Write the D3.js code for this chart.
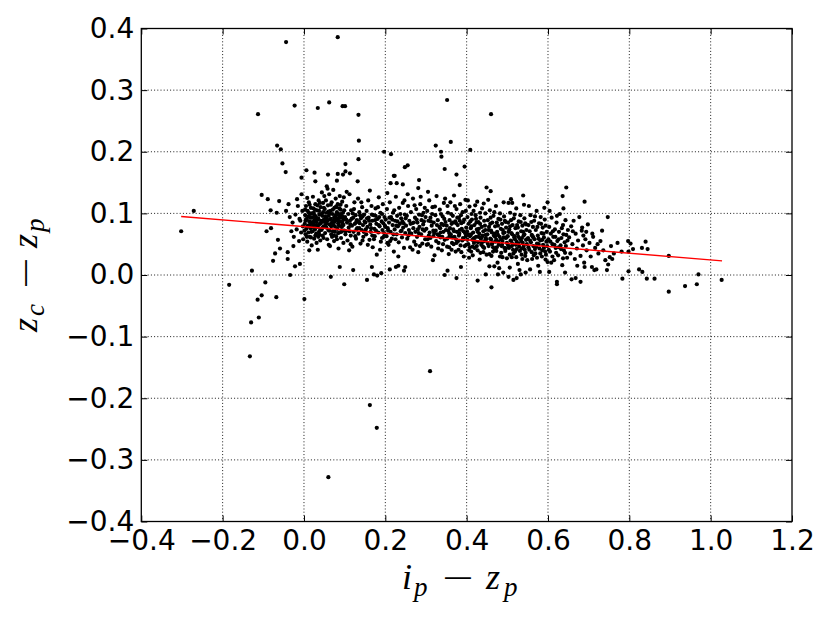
<!DOCTYPE html>
<html>
<head>
<meta charset="utf-8">
<script src="https://cdn.jsdelivr.net/npm/d3@7"></script>
<style>
  body { margin: 0; background: #fff; }
  svg { display: block; }
</style>
</head>
<body>
<svg id="chart" width="830" height="623"></svg>
<script>
// Tick values
const xTicks = [-0.4, -0.2, 0.0, 0.2, 0.4, 0.6, 0.8, 1.0, 1.2];
const yTicks = [-0.4, -0.3, -0.2, -0.1, 0.0, 0.1, 0.2, 0.3, 0.4];

// Linear fit, endpoints
const fitX = [-0.302, 1.028];
const fitY = [0.095, 0.023];

// Scattered points away from the main cloud
const outliers = [
  [-0.302,0.071],[-0.271,0.104],[-0.184,-0.016],[-0.128,0.007],[-0.095,-0.012],[-0.104,-0.033],[-0.114,-0.040],
  [-0.068,-0.036],[-0.111,-0.069],[-0.130,-0.077],[-0.133,-0.132],[0.001,-0.039],[-0.066,0.210],[-0.057,0.204],
  [-0.053,0.181],[-0.045,0.167],[-0.104,0.130],[-0.089,0.123],[-0.061,0.120],[-0.082,0.105],[-0.067,0.101],
  [-0.044,0.104],[-0.092,0.071],[-0.081,0.076],[-0.064,0.057],[-0.059,0.043],[-0.071,0.035],[-0.076,0.023],
  [-0.040,0.037],[-0.040,0.026],[-0.022,0.014],[-0.010,0.018],[-0.034,0.000],[-0.006,0.158],[0.006,0.170],
  [0.026,0.166],[0.028,0.152],[0.059,0.163],[0.083,0.164],[0.096,0.163],[0.102,0.168],[0.113,0.165],
  [0.102,0.180],[0.135,0.218],[0.081,0.153],[0.132,0.152],[0.066,-0.003],[0.099,-0.015],[0.088,0.013],
  [0.121,0.008],[-0.044,0.378],[0.083,0.386],[-0.113,0.261],[-0.023,0.275],[0.034,0.271],[0.062,0.280],
  [0.095,0.274],[0.101,0.274],[0.134,0.260],[0.134,0.188],[0.197,0.200],[0.214,0.196],[0.056,0.144],
  [0.221,0.161],[0.213,0.149],[0.228,0.149],[0.060,-0.328],[0.310,-0.156],[0.162,-0.211],[0.179,-0.248],
  [0.460,0.261],[0.352,0.284],[0.324,0.210],[0.337,0.200],[0.338,0.192],[0.361,0.216],[0.409,0.203],
  [0.346,0.172],[0.395,0.176],[0.375,0.163],[0.383,0.146],[0.248,0.175],[0.255,0.178],[0.223,0.161],
  [0.243,0.147],[0.283,0.154],[0.281,0.141],[0.449,0.142],[0.459,0.136],[0.539,0.129],[0.509,0.123],
  [0.512,0.117],[0.599,0.118],[0.155,-0.008],[0.167,0.013],[0.172,0.001],[0.180,-0.001],[0.190,0.003],
  [0.427,-0.009],[0.461,-0.020],[0.645,0.142],[0.636,0.128],[0.638,0.108],[0.690,0.119],[0.747,0.094],
  [0.733,0.072],[0.684,0.077],[0.694,0.070],[0.709,0.067],[0.722,0.050],[0.797,0.055],[0.803,0.051],
  [0.809,0.042],[0.840,0.054],[0.831,0.044],[0.845,0.042],[0.781,0.038],[0.798,0.038],[0.897,0.031],
  [0.824,0.009],[0.832,0.005],[0.843,-0.006],[0.862,-0.006],[0.798,0.006],[0.783,-0.006],[0.897,-0.027],
  [0.937,-0.018],[0.966,-0.015],[0.970,0.001],[1.027,-0.008],[0.745,0.008],[0.748,0.017],[0.758,0.026],
  [0.752,0.029],[0.714,0.008],[0.719,0.009],[0.680,-0.011],[0.658,-0.007],[0.668,-0.005],[0.642,0.004],
  [0.622,-0.011],[0.622,-0.015],[0.603,0.005],[0.708,0.013],[0.690,0.013],[0.211,0.009],[0.226,0.013],
  [0.232,0.015],[0.249,0.013],[0.246,0.007],[0.346,0.000],[0.353,0.007],[0.375,-0.005],[0.386,0.013],
  [0.447,0.001],[0.468,0.014],[0.477,0.001],[0.490,0.004],[0.503,-0.003],[0.515,-0.008],[0.523,-0.005],
  [0.533,0.001],[0.545,0.004]
];

// Main cloud, read band by band from left to right
const cloud = [
  // -0.04 .. 0.00
  [-0.028,0.085],[-0.025,0.062],[-0.021,0.098],[-0.018,0.074],[-0.015,0.112],[-0.012,0.055],[-0.009,0.088],
  [-0.007,0.069],[-0.004,0.104],[-0.003,0.079],[-0.026,0.047],[-0.017,0.123],[-0.011,0.091],[-0.002,0.058],
  [-0.006,0.131],[-0.035,0.094],[-0.031,0.071],[-0.038,0.115],
  // 0.00 .. 0.05
  [0.002,0.083],[0.003,0.097],[0.004,0.066],[0.005,0.112],[0.006,0.075],[0.007,0.091],[0.008,0.054],
  [0.009,0.104],[0.010,0.080],[0.011,0.069],[0.012,0.118],[0.013,0.087],[0.014,0.062],[0.015,0.099],
  [0.016,0.076],[0.017,0.109],[0.018,0.084],[0.019,0.048],[0.020,0.093],[0.021,0.071],[0.022,0.127],
  [0.023,0.081],[0.024,0.101],[0.025,0.059],[0.026,0.089],[0.027,0.074],[0.028,0.115],[0.029,0.095],
  [0.030,0.067],[0.031,0.086],[0.032,0.105],[0.033,0.078],[0.034,0.041],[0.035,0.092],[0.036,0.121],
  [0.037,0.070],[0.038,0.098],[0.039,0.083],[0.040,0.056],[0.041,0.110],[0.042,0.088],[0.043,0.073],
  [0.044,0.134],[0.045,0.096],[0.046,0.064],[0.047,0.102],[0.048,0.079],[0.049,0.090],[0.001,0.072],
  [0.008,0.125],[0.013,0.040],[0.019,0.100],[0.024,0.085],[0.031,0.052],[0.036,0.081],[0.042,0.099],
  [0.047,0.117],[0.005,0.090],[0.017,0.061],[0.027,0.106],[0.038,0.065],[0.044,0.087],[0.011,0.095],
  [0.022,0.078],[0.033,0.113],[0.040,0.074],[0.048,0.060],[0.003,0.106],[0.015,0.082],[0.029,0.091],
  // 0.05 .. 0.10
  [0.050,0.086],[0.051,0.107],[0.052,0.068],[0.053,0.094],[0.054,0.121],[0.055,0.077],[0.056,0.101],
  [0.057,0.058],[0.058,0.089],[0.059,0.113],[0.060,0.073],[0.061,0.096],[0.062,0.131],[0.063,0.082],
  [0.064,0.047],[0.065,0.104],[0.066,0.091],[0.067,0.066],[0.068,0.118],[0.069,0.085],[0.070,0.099],
  [0.071,0.071],[0.072,0.138],[0.073,0.088],[0.074,0.055],[0.075,0.109],[0.076,0.079],[0.077,0.095],
  [0.078,0.124],[0.079,0.063],[0.080,0.090],[0.081,0.102],[0.082,0.075],[0.083,0.115],[0.084,0.084],
  [0.085,0.043],[0.086,0.097],[0.087,0.069],[0.088,0.128],[0.089,0.087],[0.090,0.106],[0.091,0.060],
  [0.092,0.093],[0.093,0.078],[0.094,0.119],[0.095,0.083],[0.096,0.101],[0.097,0.052],[0.098,0.090],
  [0.099,0.072],[0.053,0.080],[0.058,0.140],[0.063,0.100],[0.069,0.062],[0.074,0.093],[0.079,0.111],
  [0.084,0.068],[0.089,0.099],[0.094,0.086],[0.057,0.088],[0.066,0.114],[0.072,0.081],[0.081,0.058],
  [0.087,0.108],[0.093,0.096],[0.098,0.126],[0.061,0.049],[0.076,0.070],[0.085,0.092],[0.091,0.079],
  [0.004,0.088],[0.009,0.079],[0.012,0.101],[0.016,0.093],[0.020,0.086],[0.023,0.108],[0.026,0.097],
  [0.030,0.081],[0.034,0.090],[0.037,0.104],[0.041,0.084],[0.045,0.076],[0.049,0.109],[0.052,0.095],
  [0.056,0.084],[0.060,0.103],[0.064,0.090],[0.067,0.079],[0.071,0.106],[0.075,0.086],[0.078,0.097],
  [0.082,0.089],[0.086,0.080],[0.090,0.114],[0.095,0.094],[0.099,0.105],[0.007,0.062],[0.018,0.070],
  [0.028,0.064],[0.039,0.117],[0.050,0.128],[0.062,0.072],[0.073,0.064],[0.083,0.099],[0.092,0.070],
  [0.097,0.081],[0.014,0.114],[0.035,0.062],[0.055,0.092],[0.080,0.110],
  // 0.10 .. 0.15
  [0.101,0.094],[0.103,0.071],[0.104,0.112],[0.106,0.085],[0.107,0.056],[0.109,0.099],[0.110,0.077],
  [0.112,0.131],[0.113,0.088],[0.115,0.064],[0.116,0.105],[0.118,0.080],[0.119,0.046],[0.121,0.093],
  [0.122,0.070],[0.124,0.118],[0.125,0.083],[0.127,0.097],[0.128,0.059],[0.130,0.089],[0.131,0.076],
  [0.133,0.124],[0.134,0.067],[0.136,0.102],[0.137,0.084],[0.139,0.051],[0.140,0.092],[0.142,0.073],
  [0.143,0.110],[0.145,0.081],[0.146,0.062],[0.148,0.098],[0.149,0.087],[0.105,0.135],[0.111,0.040],
  [0.117,0.091],[0.123,0.107],[0.129,0.074],[0.135,0.087],[0.141,0.118],[0.147,0.070],[0.102,0.066],
  [0.114,0.082],[0.126,0.063],[0.138,0.097],[0.144,0.056],
  [0.104,0.090],[0.112,0.071],[0.120,0.100],[0.128,0.085],[0.136,0.076],[0.144,0.095],[0.115,0.050],
  // 0.15 .. 0.20
  [0.151,0.085],[0.153,0.066],[0.154,0.104],[0.156,0.078],[0.158,0.121],[0.159,0.093],[0.161,0.057],
  [0.163,0.082],[0.164,0.070],[0.166,0.112],[0.168,0.088],[0.169,0.045],[0.171,0.097],[0.173,0.075],
  [0.174,0.063],[0.176,0.108],[0.178,0.083],[0.179,0.033],[0.181,0.091],[0.183,0.069],[0.184,0.126],
  [0.186,0.079],[0.188,0.101],[0.189,0.054],[0.191,0.087],[0.193,0.073],[0.194,0.115],[0.196,0.062],
  [0.198,0.094],[0.199,0.080],[0.157,0.049],[0.162,0.137],[0.167,0.098],[0.172,0.058],[0.177,0.072],
  [0.182,0.110],[0.187,0.041],[0.192,0.099],[0.197,0.068],[0.155,0.092],[0.165,0.076],[0.175,0.089],
  [0.185,0.094],[0.195,0.084],
  [0.152,0.074],[0.160,0.088],[0.168,0.064],[0.176,0.096],[0.184,0.081],[0.192,0.060],[0.200,0.078],
  // 0.20 .. 0.25
  [0.201,0.090],[0.203,0.063],[0.204,0.107],[0.206,0.076],[0.208,0.049],[0.209,0.085],[0.211,0.118],
  [0.213,0.070],[0.214,0.094],[0.216,0.059],[0.218,0.081],[0.219,0.101],[0.221,0.038],[0.223,0.074],
  [0.224,0.088],[0.226,0.127],[0.228,0.066],[0.229,0.096],[0.231,0.079],[0.233,0.053],[0.234,0.109],
  [0.236,0.083],[0.238,0.071],[0.239,0.092],[0.241,0.061],[0.243,0.117],[0.244,0.077],[0.246,0.044],
  [0.248,0.098],[0.249,0.068],[0.205,0.133],[0.212,0.055],[0.217,0.090],[0.222,0.105],[0.227,0.080],
  [0.232,0.030],[0.237,0.099],[0.242,0.087],[0.247,0.121],[0.207,0.072],[0.225,0.058],[0.245,0.084],
  [0.210,0.093],[0.220,0.066],[0.230,0.087],[0.240,0.072],[0.250,0.092],[0.205,0.052],
  // 0.25 .. 0.30
  [0.251,0.080],[0.253,0.096],[0.254,0.059],[0.256,0.112],[0.258,0.073],[0.259,0.088],[0.261,0.045],
  [0.263,0.102],[0.264,0.067],[0.266,0.084],[0.268,0.124],[0.269,0.076],[0.271,0.054],[0.273,0.093],
  [0.274,0.070],[0.276,0.107],[0.278,0.062],[0.279,0.085],[0.281,0.037],[0.283,0.098],[0.284,0.078],
  [0.286,0.115],[0.288,0.066],[0.289,0.089],[0.291,0.051],[0.293,0.082],[0.294,0.101],[0.296,0.072],
  [0.298,0.058],[0.299,0.094],[0.255,0.131],[0.262,0.083],[0.267,0.041],[0.272,0.113],[0.277,0.090],
  [0.282,0.068],[0.287,0.127],[0.292,0.074],[0.297,0.109],[0.257,0.064],[0.275,0.049],[0.295,0.087],
  [0.260,0.068],[0.270,0.085],[0.280,0.074],[0.290,0.097],[0.285,0.047],
  // 0.30 .. 0.35
  [0.301,0.075],[0.303,0.104],[0.304,0.058],[0.306,0.088],[0.308,0.121],[0.309,0.069],[0.311,0.093],
  [0.313,0.046],[0.314,0.080],[0.316,0.110],[0.318,0.063],[0.319,0.085],[0.321,0.032],[0.323,0.097],
  [0.324,0.072],[0.326,0.128],[0.328,0.066],[0.329,0.089],[0.331,0.052],[0.333,0.078],[0.334,0.106],
  [0.336,0.061],[0.338,0.083],[0.339,0.040],[0.341,0.095],[0.343,0.070],[0.344,0.117],[0.346,0.057],
  [0.348,0.086],[0.349,0.073],[0.305,0.135],[0.312,0.087],[0.317,0.024],[0.322,0.111],[0.327,0.081],
  [0.332,0.064],[0.337,0.099],[0.342,0.050],[0.347,0.124],[0.302,0.049],[0.315,0.099],[0.325,0.055],
  [0.335,0.076],[0.345,0.091],[0.307,0.064],[0.320,0.068],[0.340,0.062],
  [0.305,0.050],[0.318,0.072],[0.330,0.043],[0.343,0.081],[0.311,0.060],[0.336,0.069],
  // 0.35 .. 0.40
  [0.351,0.080],[0.352,0.059],[0.354,0.101],[0.355,0.072],[0.357,0.045],[0.358,0.089],[0.360,0.118],
  [0.361,0.066],[0.363,0.083],[0.364,0.052],[0.366,0.096],[0.367,0.074],[0.369,0.129],[0.370,0.062],
  [0.372,0.087],[0.373,0.038],[0.375,0.107],[0.376,0.070],[0.378,0.081],[0.379,0.055],[0.381,0.093],
  [0.382,0.067],[0.384,0.115],[0.385,0.048],[0.387,0.084],[0.388,0.075],[0.390,0.102],[0.391,0.060],
  [0.393,0.030],[0.394,0.090],[0.396,0.068],[0.397,0.122],[0.399,0.077],[0.353,0.112],[0.356,0.034],
  [0.359,0.076],[0.362,0.099],[0.365,0.061],[0.368,0.050],[0.371,0.112],[0.374,0.084],[0.377,0.093],
  [0.380,0.041],[0.383,0.073],[0.386,0.097],[0.389,0.056],[0.392,0.086],[0.395,0.047],[0.398,0.104],
  [0.357,0.068],[0.366,0.085],[0.374,0.058],[0.383,0.088],[0.392,0.071],[0.398,0.063],
  [0.352,0.046],[0.358,0.063],[0.363,0.041],[0.369,0.071],[0.375,0.052],[0.381,0.064],[0.387,0.037],
  [0.393,0.058],[0.399,0.049],
  // 0.40 .. 0.45
  [0.401,0.071],[0.402,0.094],[0.404,0.050],[0.405,0.083],[0.407,0.111],[0.408,0.063],[0.410,0.076],
  [0.411,0.038],[0.413,0.090],[0.414,0.057],[0.416,0.069],[0.417,0.104],[0.419,0.081],[0.420,0.044],
  [0.422,0.097],[0.423,0.062],[0.425,0.074],[0.426,0.119],[0.428,0.053],[0.429,0.086],[0.431,0.067],
  [0.432,0.025],[0.434,0.093],[0.435,0.059],[0.437,0.078],[0.438,0.108],[0.440,0.046],[0.441,0.071],
  [0.443,0.088],[0.444,0.055],[0.446,0.100],[0.447,0.065],[0.449,0.033],[0.403,0.121],[0.406,0.028],
  [0.409,0.087],[0.412,0.099],[0.415,0.046],[0.418,0.060],[0.421,0.113],[0.424,0.085],[0.427,0.040],
  [0.430,0.075],[0.433,0.101],[0.436,0.049],[0.439,0.064],[0.442,0.116],[0.445,0.080],[0.448,0.058],
  [0.404,0.066],[0.412,0.079],[0.418,0.052],[0.427,0.070],[0.433,0.083],[0.441,0.037],[0.446,0.073],
  [0.408,0.045],[0.423,0.091],[0.437,0.061],
  [0.402,0.057],[0.406,0.040],[0.411,0.066],[0.415,0.032],[0.420,0.055],[0.425,0.047],[0.429,0.062],
  [0.434,0.036],[0.438,0.053],[0.443,0.044],[0.447,0.060],
  // 0.45 .. 0.50
  [0.451,0.066],[0.452,0.089],[0.454,0.047],[0.455,0.078],[0.457,0.105],[0.458,0.059],[0.460,0.072],
  [0.461,0.031],[0.463,0.085],[0.464,0.053],[0.466,0.096],[0.467,0.064],[0.469,0.041],[0.470,0.079],
  [0.472,0.112],[0.473,0.057],[0.475,0.070],[0.476,0.020],[0.478,0.091],[0.479,0.049],[0.481,0.062],
  [0.482,0.100],[0.484,0.075],[0.485,0.036],[0.487,0.083],[0.488,0.055],[0.490,0.068],[0.491,0.118],
  [0.493,0.044],[0.494,0.088],[0.496,0.060],[0.497,0.077],[0.499,0.027],[0.453,0.122],[0.456,0.014],
  [0.459,0.093],[0.462,0.069],[0.465,0.038],[0.468,0.102],[0.471,0.054],[0.474,0.085],[0.477,0.065],
  [0.480,0.011],[0.483,0.090],[0.486,0.047],[0.489,0.073],[0.492,0.095],[0.495,0.039],[0.498,0.061],
  [0.454,0.073],[0.462,0.050],[0.470,0.062],[0.477,0.080],[0.485,0.058],[0.493,0.069],[0.458,0.083],
  [0.474,0.045],[0.488,0.029],[0.496,0.086],
  [0.452,0.051],[0.456,0.034],[0.460,0.058],[0.465,0.045],[0.469,0.067],[0.473,0.039],[0.478,0.054],
  [0.482,0.030],[0.487,0.049],[0.491,0.061],[0.496,0.043],[0.499,0.052],
  // 0.50 .. 0.55
  [0.501,0.063],[0.502,0.085],[0.504,0.044],[0.505,0.074],[0.507,0.101],[0.508,0.056],[0.510,0.068],
  [0.511,0.029],[0.513,0.081],[0.514,0.050],[0.516,0.092],[0.517,0.061],[0.519,0.038],[0.520,0.076],
  [0.522,0.108],[0.523,0.054],[0.525,0.067],[0.526,0.018],[0.528,0.087],[0.529,0.046],[0.531,0.059],
  [0.532,0.097],[0.534,0.071],[0.535,0.033],[0.537,0.080],[0.538,0.052],[0.540,0.064],[0.541,0.114],
  [0.543,0.041],[0.544,0.084],[0.546,0.057],[0.547,0.073],[0.549,0.024],[0.503,0.117],[0.506,0.012],
  [0.509,0.089],[0.512,0.066],[0.515,0.035],[0.518,0.098],[0.521,0.049],[0.524,0.081],[0.527,0.062],
  [0.530,0.008],[0.533,0.086],[0.536,0.043],[0.539,0.070],[0.542,0.092],[0.545,0.036],[0.548,0.058],
  [0.503,0.070],[0.511,0.047],[0.519,0.058],[0.526,0.077],[0.534,0.055],[0.542,0.066],[0.507,0.079],
  [0.523,0.042],[0.537,0.026],[0.546,0.082],
  [0.502,0.048],[0.506,0.033],[0.510,0.055],[0.514,0.041],[0.518,0.063],[0.522,0.029],[0.527,0.051],
  [0.531,0.039],[0.536,0.060],[0.540,0.046],[0.544,0.031],[0.548,0.050],
  // 0.55 .. 0.60
  [0.551,0.060],[0.552,0.081],[0.554,0.041],[0.555,0.071],[0.557,0.097],[0.558,0.053],[0.560,0.065],
  [0.561,0.026],[0.563,0.078],[0.564,0.047],[0.566,0.088],[0.567,0.058],[0.569,0.035],[0.570,0.073],
  [0.572,0.104],[0.573,0.051],[0.575,0.064],[0.576,0.015],[0.578,0.084],[0.579,0.043],[0.581,0.056],
  [0.582,0.094],[0.584,0.068],[0.585,0.030],[0.587,0.077],[0.588,0.049],[0.590,0.061],[0.591,0.109],
  [0.593,0.038],[0.594,0.080],[0.596,0.054],[0.597,0.070],[0.599,0.021],[0.553,0.112],[0.556,0.009],
  [0.559,0.086],[0.562,0.063],[0.565,0.032],[0.568,0.095],[0.571,0.046],[0.574,0.078],[0.577,0.059],
  [0.580,0.005],[0.583,0.083],[0.586,0.040],[0.589,0.067],[0.592,0.090],[0.595,0.033],[0.598,0.055],
  [0.552,0.045],[0.556,0.056],[0.560,0.037],[0.564,0.061],[0.568,0.042],[0.573,0.028],[0.577,0.050],
  [0.581,0.035],[0.586,0.057],[0.590,0.044],[0.594,0.025],[0.598,0.047],
  // 0.60 .. 0.65
  [0.601,0.058],[0.603,0.078],[0.605,0.038],[0.607,0.067],[0.609,0.093],[0.611,0.050],[0.613,0.062],
  [0.615,0.024],[0.617,0.074],[0.619,0.044],[0.621,0.085],[0.623,0.055],[0.625,0.032],[0.627,0.070],
  [0.629,0.099],[0.631,0.048],[0.633,0.060],[0.635,0.016],[0.637,0.081],[0.639,0.040],[0.641,0.053],
  [0.643,0.089],[0.645,0.065],[0.647,0.028],[0.649,0.073],[0.604,0.104],[0.612,0.071],[0.618,0.062],
  [0.626,0.045],[0.634,0.076],[0.642,0.036],[0.648,0.056],[0.608,0.020],[0.622,0.096],[0.638,0.066],
  [0.602,0.041],[0.606,0.054],[0.611,0.030],[0.616,0.049],[0.620,0.036],[0.626,0.058],[0.632,0.042],
  [0.637,0.027],[0.644,0.047],
  // 0.65 .. 0.70
  [0.652,0.061],[0.655,0.035],[0.657,0.079],[0.660,0.050],[0.663,0.088],[0.666,0.026],[0.668,0.067],
  [0.671,0.043],[0.674,0.056],[0.677,0.094],[0.680,0.031],[0.683,0.072],[0.686,0.048],[0.689,0.020],
  [0.692,0.058],[0.695,0.040],[0.698,0.082],[0.661,0.071],[0.672,0.015],[0.687,0.064],
  // 0.70 .. 0.78
  [0.702,0.052],[0.705,0.030],[0.711,0.062],[0.716,0.044],[0.724,0.035],[0.729,0.055],[0.736,0.040],
  [0.741,0.024],[0.755,0.047],[0.762,0.035],[0.771,0.052]
];

const svg = d3.select("#chart");

// Plot box in pixels
const plotLeft = 141.3, plotRight = 792, plotTop = 28.5, plotBottom = 521.5;

const x = d3.scaleLinear().domain([-0.4, 1.2]).range([plotLeft, plotRight]);
const y = d3.scaleLinear().domain([-0.4, 0.4]).range([plotBottom, plotTop]);
const fmt = d3.format(".1f");

// Dotted grid
const grid = svg.append("g").attr("class", "grid")
  .attr("stroke", "#000").attr("stroke-width", 0.9).attr("stroke-dasharray", "1,2.2");

grid.selectAll(".gx").data(xTicks.slice(1, -1)).join("line")
  .attr("x1", d => x(d)).attr("x2", d => x(d))
  .attr("y1", plotTop).attr("y2", plotBottom);

grid.selectAll(".gy").data(yTicks.slice(1, -1)).join("line")
  .attr("y1", d => y(d)).attr("y2", d => y(d))
  .attr("x1", plotLeft).attr("x2", plotRight);

// Points
const allPoints = outliers.concat(cloud);
svg.append("g")
  .selectAll("circle")
  .data(allPoints)
  .join("circle")
  .attr("cx", d => x(d[0]))
  .attr("cy", d => y(d[1]))
  .attr("r", 2.1)
  .attr("fill", "#000");

// Fit line
svg.append("path")
  .datum(fitX.map((v, i) => [v, fitY[i]]))
  .attr("fill", "none")
  .attr("stroke", "#ff0000")
  .attr("stroke-width", 1.4)
  .attr("d", d3.line().x(d => x(d[0])).y(d => y(d[1])));

// Axes, ticks pointing inward on all four sides
const styleAxis = g => {
  g.select(".domain").remove();
  g.selectAll(".tick line").attr("stroke", "#000").attr("stroke-width", 1);
  g.selectAll(".tick text")
    .attr("fill", "#000")
    .attr("font-family", "'DejaVu Sans', sans-serif")
    .attr("font-size", 28);
};

svg.append("g")
  .attr("transform", `translate(0, ${plotBottom})`)
  .call(d3.axisBottom(x).tickValues(xTicks).tickFormat(fmt).tickSize(-6).tickPadding(9))
  .call(styleAxis);

svg.append("g")
  .attr("transform", `translate(0, ${plotTop})`)
  .call(d3.axisTop(x).tickValues(xTicks).tickFormat("").tickSize(-6))
  .call(styleAxis);

svg.append("g")
  .attr("transform", `translate(${plotLeft}, 0)`)
  .call(d3.axisLeft(y).tickValues(yTicks).tickFormat(fmt).tickSize(-6).tickPadding(7))
  .call(styleAxis);

svg.append("g")
  .attr("transform", `translate(${plotRight}, 0)`)
  .call(d3.axisRight(y).tickValues(yTicks).tickFormat("").tickSize(-6))
  .call(styleAxis);

// Frame
svg.append("rect")
  .attr("x", plotLeft).attr("y", plotTop)
  .attr("width", plotRight - plotLeft).attr("height", plotBottom - plotTop)
  .attr("fill", "none").attr("stroke", "#000").attr("stroke-width", 1.3);

// Axis labels in math style: pieces placed along the label's own baseline
const mathFont = "'Liberation Serif', 'DejaVu Serif', serif";
const labelParts = (sym1, sub1, sym2, sub2, offs) => [
  { t: sym1, dx: offs[0], dy: 0, size: 36, sx: 1, italic: true },
  { t: sub1, dx: offs[1], dy: 7, size: 27, sx: 1, italic: true },
  { t: "\u2212", dx: offs[2], dy: 1, size: 36, sx: 1.55, italic: false },
  { t: sym2, dx: offs[3], dy: 0, size: 36, sx: 1, italic: true },
  { t: sub2, dx: offs[4], dy: 7, size: 27, sx: 1, italic: true }
];

const drawLabel = (g, parts) => {
  g.selectAll("text").data(parts).join("text")
    .attr("transform", d => `translate(${d.dx}, ${d.dy}) scale(${d.sx}, 1)`)
    .attr("font-family", mathFont)
    .attr("font-size", d => d.size)
    .attr("font-style", d => d.italic ? "italic" : "normal")
    .attr("fill", "#000")
    .text(d => d.t);
};

drawLabel(svg.append("g").attr("transform", "translate(402, 589)"),
  labelParts("i", "p", "z", "p", [0, 12, 40, 84, 102]));

drawLabel(svg.append("g").attr("transform", "translate(37, 332) rotate(-90)"),
  labelParts("z", "c", "z", "p", [0, 16, 43, 84, 100]));
</script>
</body>
</html>
